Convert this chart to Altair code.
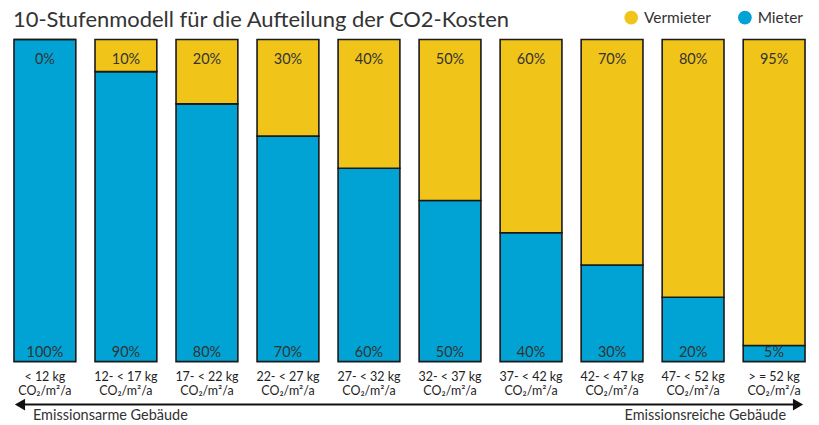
import altair as alt
import pandas as pd

categories = ["< 12 kg|CO₂/m²/a", "12- < 17 kg|CO₂/m²/a", "17- < 22 kg|CO₂/m²/a",
              "22- < 27 kg|CO₂/m²/a", "27- < 32 kg|CO₂/m²/a", "32- < 37 kg|CO₂/m²/a",
              "37- < 42 kg|CO₂/m²/a", "42- < 47 kg|CO₂/m²/a", "47- < 52 kg|CO₂/m²/a",
              "> = 52 kg|CO₂/m²/a"]
vermieter = [0, 10, 20, 30, 40, 50, 60, 70, 80, 95]
mieter = [100, 90, 80, 70, 60, 50, 40, 30, 20, 5]
title_text = "10-Stufenmodell für die Aufteilung der CO2-Kosten"
left_label = "Emissionsarme Gebäude"
right_label = "Emissionsreiche Gebäude"

rows = []
for c, v, m in zip(categories, vermieter, mieter):
    rows.append({"cat": c, "group": "Mieter", "value": m, "start": 0, "end": m})
    rows.append({"cat": c, "group": "Vermieter", "value": v, "start": m, "end": m + v})
df = pd.DataFrame(rows)

lab = pd.DataFrame({"cat": categories,
                    "top": [f"{v}%" for v in vermieter],
                    "bottom": [f"{m}%" for m in mieter]})
one = pd.DataFrame({"title": [title_text], "left": [left_label], "right": [right_label]})

FONT = "Lato"
YEL = "#F0C419"
BLU = "#00A3D4"

x = alt.X("cat:N", sort=categories, title=None,
          scale=alt.Scale(paddingInner=0.237, paddingOuter=0),
          axis=alt.Axis(labelExpr="split(datum.label, '|')", labelAngle=0,
                        domain=False, ticks=False, labelFontSize=12.5,
                        labelFont=FONT, labelColor="#222", labelPadding=9,
                        labelLineHeight=14))
yscale = alt.Scale(domain=[0, 100], nice=False)

bars = alt.Chart(df).mark_bar(stroke="#1a1a1a", strokeWidth=1.6).encode(
    x=x,
    y=alt.Y("start:Q", scale=yscale, axis=None),
    y2="end:Q",
    color=alt.Color("group:N", sort=["Vermieter", "Mieter"],
                    scale=alt.Scale(domain=["Vermieter", "Mieter"], range=[YEL, BLU]),
                    legend=alt.Legend(title=None, orient="none", legendX=611, legendY=-30,
                                      direction="horizontal", symbolType="circle",
                                      symbolSize=190, symbolStrokeWidth=0,
                                      labelFontSize=15.5, labelFont=FONT, labelColor="#333",
                                      columnPadding=26, labelOffset=5)),
)

top_text = alt.Chart(lab).mark_text(fontSize=14.5, font=FONT, color="#333", baseline="middle").encode(
    x=alt.X("cat:N", sort=categories),
    y=alt.value(21),
    text="top:N",
)
bottom_text = alt.Chart(lab).mark_text(fontSize=14.5, font=FONT, color="#333", baseline="middle").encode(
    x=alt.X("cat:N", sort=categories),
    y=alt.value(314),
    text="bottom:N",
)

base = alt.Chart(one)
title_mark = base.mark_text(fontSize=22, font=FONT, fontWeight="normal", color="#333",
                            align="left", baseline="middle").encode(
    x=alt.value(-1), y=alt.value(-19), text="title:N")
arrow_line = base.mark_rule(color="#111", strokeWidth=2).encode(
    x=alt.value(6), x2=alt.value(786), y=alt.value(366))
arrow_left = base.mark_point(shape="triangle-left", filled=True, color="#111",
                             size=140, opacity=1).encode(
    x=alt.value(6), y=alt.value(366))
arrow_right = base.mark_point(shape="triangle-right", filled=True, color="#111",
                              size=140, opacity=1).encode(
    x=alt.value(786), y=alt.value(366))
left_txt = base.mark_text(fontSize=14.5, font=FONT, color="#333", align="left",
                          baseline="middle").encode(
    x=alt.value(19), y=alt.value(378), text="left:N")
right_txt = base.mark_text(fontSize=14.5, font=FONT, color="#333", align="right",
                           baseline="middle").encode(
    x=alt.value(774), y=alt.value(378), text="right:N")

chart = alt.layer(bars, top_text, bottom_text, title_mark, arrow_line, arrow_left,
                  arrow_right, left_txt, right_txt).properties(
    width=793, height=323,
    padding={"left": 6, "top": 31, "right": 6, "bottom": 62},
    autosize=alt.AutoSizeParams(type="none"),
).configure_view(stroke=None)

chart.save("out.html", embed_options={"renderer": "svg", "actions": False})
